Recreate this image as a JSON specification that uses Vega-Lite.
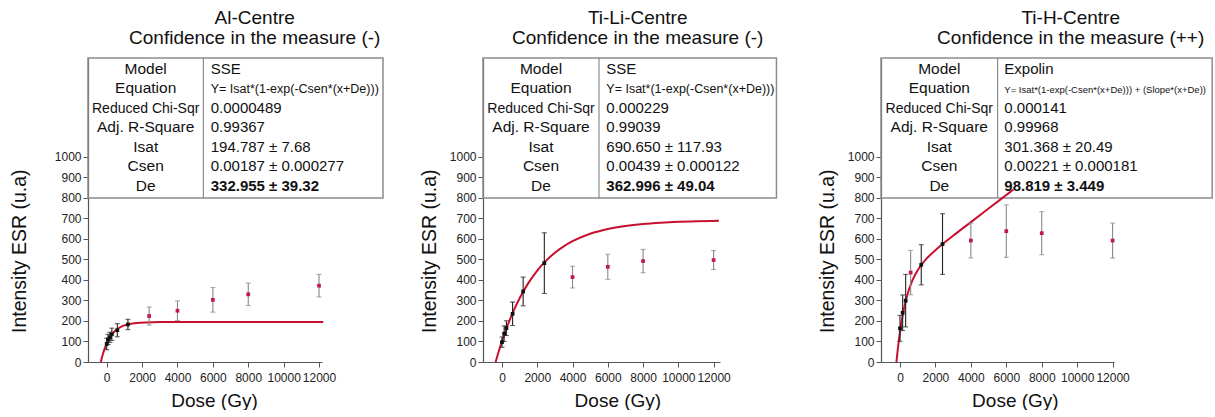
{
  "$schema": "https://vega.github.io/schema/vega-lite/v6.json",
  "padding": {"left": 9, "top": 9, "right": 0, "bottom": 0},
  "background": "white",
  "bounds": "flush",
  "spacing": 161,
  "config": {
    "font": "Liberation Sans",
    "view": {"stroke": null},
    "axis": {"grid": false, "domainColor": "#555555", "tickColor": "#555555", "labelColor": "#222222", "titleColor": "#111111", "labelFontSize": 12, "titleFontSize": 19, "titleFontWeight": "normal", "labelFont": "Liberation Sans", "titleFont": "Liberation Sans", "domainWidth": 1.2, "tickSize": 5, "labelOverlap": false, "labelFlush": false},
    "axisX": {"titlePadding": 8, "labelPadding": 5},
    "axisY": {"titleFontSize": 19.5, "titleY": 192.7, "labelPadding": 2},
    "title": {"font": "Liberation Sans", "fontSize": 19, "fontWeight": "normal", "color": "#111111", "anchor": "middle", "frame": "group", "lineHeight": 20},
    "text": {"font": "Liberation Sans", "color": "#111111"}
  },
  "datasets": {
    "pts": [
      {"panel": "Al", "dose": 0, "esr": 88, "err": 28, "fit": true},
      {"panel": "Al", "dose": 75, "esr": 110, "err": 25, "fit": true},
      {"panel": "Al", "dose": 180, "esr": 120, "err": 25, "fit": true},
      {"panel": "Al", "dose": 290, "esr": 135, "err": 30, "fit": true},
      {"panel": "Al", "dose": 600, "esr": 155, "err": 32, "fit": true},
      {"panel": "Al", "dose": 1200, "esr": 183, "err": 25, "fit": true},
      {"panel": "Al", "dose": 2400, "esr": 224, "err": 44, "fit": false},
      {"panel": "Al", "dose": 4000, "esr": 250, "err": 48, "fit": false},
      {"panel": "Al", "dose": 6000, "esr": 303, "err": 60, "fit": false},
      {"panel": "Al", "dose": 8000, "esr": 330, "err": 55, "fit": false},
      {"panel": "Al", "dose": 12000, "esr": 372, "err": 55, "fit": false},
      {"panel": "TiLi", "dose": 0, "esr": 97, "err": 25, "fit": true},
      {"panel": "TiLi", "dose": 120, "esr": 138, "err": 38, "fit": true},
      {"panel": "TiLi", "dose": 250, "esr": 165, "err": 36, "fit": true},
      {"panel": "TiLi", "dose": 600, "esr": 235, "err": 57, "fit": true},
      {"panel": "TiLi", "dose": 1200, "esr": 344, "err": 70, "fit": true},
      {"panel": "TiLi", "dose": 2400, "esr": 482, "err": 148, "fit": true},
      {"panel": "TiLi", "dose": 4000, "esr": 414, "err": 53, "fit": false},
      {"panel": "TiLi", "dose": 6000, "esr": 464, "err": 61, "fit": false},
      {"panel": "TiLi", "dose": 8000, "esr": 492, "err": 57, "fit": false},
      {"panel": "TiLi", "dose": 12000, "esr": 497, "err": 46, "fit": false},
      {"panel": "TiH", "dose": 0, "esr": 164, "err": 63, "fit": true},
      {"panel": "TiH", "dose": 150, "esr": 240, "err": 87, "fit": true},
      {"panel": "TiH", "dose": 320, "esr": 299, "err": 128, "fit": true},
      {"panel": "TiH", "dose": 600, "esr": 436, "err": 108, "fit": false},
      {"panel": "TiH", "dose": 1200, "esr": 474, "err": 98, "fit": true},
      {"panel": "TiH", "dose": 2400, "esr": 575, "err": 148, "fit": true},
      {"panel": "TiH", "dose": 4000, "esr": 592, "err": 85, "fit": false},
      {"panel": "TiH", "dose": 6000, "esr": 638, "err": 128, "fit": false},
      {"panel": "TiH", "dose": 8000, "esr": 628, "err": 105, "fit": false},
      {"panel": "TiH", "dose": 12000, "esr": 592, "err": 85, "fit": false}
    ],
    "fits": [
      {"panel": "Al", "dose": -333, "esr": 0},
      {"panel": "Al", "dose": -250, "esr": 28.0},
      {"panel": "Al", "dose": -150, "esr": 56.4},
      {"panel": "Al", "dose": -50, "esr": 80.0},
      {"panel": "Al", "dose": 0, "esr": 90.3},
      {"panel": "Al", "dose": 100, "esr": 108.1},
      {"panel": "Al", "dose": 200, "esr": 122.9},
      {"panel": "Al", "dose": 300, "esr": 135.1},
      {"panel": "Al", "dose": 450, "esr": 149.7},
      {"panel": "Al", "dose": 600, "esr": 160.8},
      {"panel": "Al", "dose": 800, "esr": 171.4},
      {"panel": "Al", "dose": 1000, "esr": 178.7},
      {"panel": "Al", "dose": 1300, "esr": 185.6},
      {"panel": "Al", "dose": 1700, "esr": 190.4},
      {"panel": "Al", "dose": 2200, "esr": 193.1},
      {"panel": "Al", "dose": 3000, "esr": 194.4},
      {"panel": "Al", "dose": 5000, "esr": 194.8},
      {"panel": "Al", "dose": 8000, "esr": 194.8},
      {"panel": "Al", "dose": 12240, "esr": 194.8},
      {"panel": "TiLi", "dose": -363, "esr": 0},
      {"panel": "TiLi", "dose": -200, "esr": 47.7},
      {"panel": "TiLi", "dose": 0, "esr": 101.7},
      {"panel": "TiLi", "dose": 200, "esr": 151.2},
      {"panel": "TiLi", "dose": 400, "esr": 196.6},
      {"panel": "TiLi", "dose": 700, "esr": 257.5},
      {"panel": "TiLi", "dose": 1000, "esr": 311.0},
      {"panel": "TiLi", "dose": 1500, "esr": 385.8},
      {"panel": "TiLi", "dose": 2000, "esr": 445.9},
      {"panel": "TiLi", "dose": 2500, "esr": 494.1},
      {"panel": "TiLi", "dose": 3000, "esr": 532.8},
      {"panel": "TiLi", "dose": 3500, "esr": 563.9},
      {"panel": "TiLi", "dose": 4000, "esr": 588.9},
      {"panel": "TiLi", "dose": 5000, "esr": 625.1},
      {"panel": "TiLi", "dose": 6000, "esr": 648.4},
      {"panel": "TiLi", "dose": 7000, "esr": 663.4},
      {"panel": "TiLi", "dose": 8000, "esr": 673.1},
      {"panel": "TiLi", "dose": 9000, "esr": 679.3},
      {"panel": "TiLi", "dose": 10000, "esr": 683.4},
      {"panel": "TiLi", "dose": 11000, "esr": 685.9},
      {"panel": "TiLi", "dose": 12300, "esr": 688.0},
      {"panel": "TiH", "dose": -200, "esr": 0},
      {"panel": "TiH", "dose": -150, "esr": 41.8},
      {"panel": "TiH", "dose": -100, "esr": 80.0},
      {"panel": "TiH", "dose": -50, "esr": 114.9},
      {"panel": "TiH", "dose": 0, "esr": 146.7},
      {"panel": "TiH", "dose": 100, "esr": 202.5},
      {"panel": "TiH", "dose": 200, "esr": 249.4},
      {"panel": "TiH", "dose": 300, "esr": 289.0},
      {"panel": "TiH", "dose": 450, "esr": 337.5},
      {"panel": "TiH", "dose": 600, "esr": 376.0},
      {"panel": "TiH", "dose": 800, "esr": 416.2},
      {"panel": "TiH", "dose": 1000, "esr": 447.5},
      {"panel": "TiH", "dose": 1200, "esr": 472.8},
      {"panel": "TiH", "dose": 1500, "esr": 503.7},
      {"panel": "TiH", "dose": 2000, "esr": 545.2},
      {"panel": "TiH", "dose": 2400, "esr": 574.4},
      {"panel": "TiH", "dose": 3000, "esr": 615.5},
      {"panel": "TiH", "dose": 4000, "esr": 682.1},
      {"panel": "TiH", "dose": 5000, "esr": 748.2},
      {"panel": "TiH", "dose": 6000, "esr": 814.2},
      {"panel": "TiH", "dose": 6400, "esr": 840.6}
    ],
    "tbl": [
      {"panel": "Al", "row": 1, "param": "Model", "value": "SSE"},
      {"panel": "Al", "row": 2, "param": "Equation", "value": "Y= Isat*(1-exp(-Csen*(x+De)))"},
      {"panel": "Al", "row": 3, "param": "Reduced Chi-Sqr", "value": "0.0000489"},
      {"panel": "Al", "row": 4, "param": "Adj. R-Square", "value": " 0.99367"},
      {"panel": "Al", "row": 5, "param": "Isat", "value": "194.787 ± 7.68"},
      {"panel": "Al", "row": 6, "param": "Csen", "value": "0.00187 ± 0.000277"},
      {"panel": "Al", "row": 7, "param": "De", "value": "332.955 ± 39.32"},
      {"panel": "TiLi", "row": 1, "param": "Model", "value": "SSE"},
      {"panel": "TiLi", "row": 2, "param": "Equation", "value": "Y= Isat*(1-exp(-Csen*(x+De)))"},
      {"panel": "TiLi", "row": 3, "param": "Reduced Chi-Sqr", "value": "0.000229"},
      {"panel": "TiLi", "row": 4, "param": "Adj. R-Square", "value": "0.99039"},
      {"panel": "TiLi", "row": 5, "param": "Isat", "value": "690.650 ± 117.93"},
      {"panel": "TiLi", "row": 6, "param": "Csen", "value": "0.00439 ± 0.000122"},
      {"panel": "TiLi", "row": 7, "param": "De", "value": "362.996 ± 49.04"},
      {"panel": "TiH", "row": 1, "param": "Model", "value": "Expolin"},
      {"panel": "TiH", "row": 2, "param": "Equation", "value": "Y= Isat*(1-exp(-Csen*(x+De))) + (Slope*(x+De))"},
      {"panel": "TiH", "row": 3, "param": "Reduced Chi-Sqr", "value": "0.000141"},
      {"panel": "TiH", "row": 4, "param": "Adj. R-Square", "value": "0.99968"},
      {"panel": "TiH", "row": 5, "param": "Isat", "value": "301.368 ± 20.49"},
      {"panel": "TiH", "row": 6, "param": "Csen", "value": "0.00221 ± 0.000181"},
      {"panel": "TiH", "row": 7, "param": "De", "value": "98.819 ± 3.449"}
    ]
  },
  "hconcat": [
    {
      "width": 234, "height": 304,
      "title": {"text": ["Al-Centre", "Confidence in the measure (-)"], "dx": 49.7, "offset": 9},
      "layer": [
        {
          "layer": [
            {
              "data": {"values": [{}]},
              "mark": {"type": "rect", "fill": "white", "fillOpacity": 0, "stroke": "#8c8c8c", "strokeWidth": 1.5},
              "encoding": {
                "x": {"datum": -1057, "type": "quantitative", "scale": {"domain": [-1057, 12168], "nice": false, "zero": false}, "title": "Dose (Gy)", "axis": {"values": [0, 2000, 4000, 6000, 8000, 10000, 12000], "format": "d", "titleX": 126}},
                "x2": {"datum": 15615},
                "y": {"datum": 800, "type": "quantitative", "scale": {"domain": [0, 1482], "nice": false}, "title": "Intensity ESR (u.a)", "axis": {"values": [0, 100, 200, 300, 400, 500, 600, 700, 800, 900, 1000], "format": "d", "titlePadding": 25}},
                "y2": {"datum": 1482}
              }
            },
            {
              "data": {"values": [{}]},
              "mark": {"type": "rule", "stroke": "#8c8c8c", "strokeWidth": 1.2},
              "encoding": {
                "x": {"datum": 5465, "type": "quantitative", "title": "Dose (Gy)", "axis": {"values": [0, 2000, 4000, 6000, 8000, 10000, 12000], "format": "d", "titleX": 126}},
                "y": {"datum": 800, "type": "quantitative", "title": "Intensity ESR (u.a)", "axis": {"values": [0, 100, 200, 300, 400, 500, 600, 700, 800, 900, 1000], "format": "d", "titlePadding": 25}},
                "y2": {"datum": 1482}
              }
            },
            {
              "data": {"name": "fits"},
              "transform": [{"filter": "datum.panel == 'Al'"}],
              "mark": {"type": "line", "color": "#c8102e", "strokeWidth": 2, "interpolate": "monotone", "clip": false},
              "encoding": {
                "x": {"field": "dose", "type": "quantitative", "title": "Dose (Gy)", "axis": {"values": [0, 2000, 4000, 6000, 8000, 10000, 12000], "format": "d", "titleX": 126}},
                "y": {"field": "esr", "type": "quantitative", "title": "Intensity ESR (u.a)", "axis": {"values": [0, 100, 200, 300, 400, 500, 600, 700, 800, 900, 1000], "format": "d", "titlePadding": 25}}
              }
            },
            {
              "data": {"name": "pts"},
              "transform": [{"filter": "datum.panel == 'Al'"}],
              "mark": {"type": "errorbar", "ticks": {"size": 5}, "thickness": 1.1},
              "encoding": {
                "x": {"field": "dose", "type": "quantitative", "title": "Dose (Gy)", "axis": {"values": [0, 2000, 4000, 6000, 8000, 10000, 12000], "format": "d", "titleX": 126}},
                "y": {"field": "esr", "type": "quantitative", "title": "Intensity ESR (u.a)", "axis": {"values": [0, 100, 200, 300, 400, 500, 600, 700, 800, 900, 1000], "format": "d", "titlePadding": 25}},
                "yError": {"field": "err"},
                "color": {"condition": {"test": "datum.fit", "value": "#222222"}, "value": "#888888"}
              }
            },
            {
              "data": {"name": "pts"},
              "transform": [{"filter": "datum.panel == 'Al'"}],
              "mark": {"type": "square", "size": 14, "opacity": 1},
              "encoding": {
                "x": {"field": "dose", "type": "quantitative", "title": "Dose (Gy)", "axis": {"values": [0, 2000, 4000, 6000, 8000, 10000, 12000], "format": "d", "titleX": 126}},
                "y": {"field": "esr", "type": "quantitative", "title": "Intensity ESR (u.a)", "axis": {"values": [0, 100, 200, 300, 400, 500, 600, 700, 800, 900, 1000], "format": "d", "titlePadding": 25}},
                "color": {"condition": {"test": "datum.fit", "value": "#111111"}, "value": "#c2185b"}
              }
            }
          ]
        },
        {
          "data": {"name": "tbl"},
          "transform": [{"filter": "datum.panel == 'Al'"}],
          "encoding": {
            "y": {"field": "row", "type": "quantitative", "scale": {"domain": [0.1774, 15.82], "reverse": true, "nice": false, "zero": false}, "axis": null}
          },
          "layer": [
            {
              "mark": {"type": "text", "align": "center", "baseline": "alphabetic"},
              "encoding": {
                "x": {"datum": 2204, "type": "quantitative", "title": "Dose (Gy)", "axis": {"values": [0, 2000, 4000, 6000, 8000, 10000, 12000], "format": "d", "titleX": 126}},
                "text": {"field": "param"},
                "size": {"condition": {"test": "datum.row == 3", "value": 14}, "value": 15.5}
              }
            },
            {
              "transform": [{"filter": "datum.row != 7"}],
              "mark": {"type": "text", "align": "left", "baseline": "alphabetic"},
              "encoding": {
                "x": {"datum": 5878, "type": "quantitative", "title": "Dose (Gy)", "axis": {"values": [0, 2000, 4000, 6000, 8000, 10000, 12000], "format": "d", "titleX": 126}},
                "text": {"field": "value"},
                "size": {"condition": {"test": "datum.row == 2", "value": 12.5}, "value": 15}
              }
            },
            {
              "transform": [{"filter": "datum.row == 7"}],
              "mark": {"type": "text", "align": "left", "baseline": "alphabetic", "fontWeight": "bold", "fontSize": 15},
              "encoding": {
                "x": {"datum": 5878, "type": "quantitative", "title": "Dose (Gy)", "axis": {"values": [0, 2000, 4000, 6000, 8000, 10000, 12000], "format": "d", "titleX": 126}},
                "text": {"field": "value"}
              }
            }
          ]
        }
      ],
      "resolve": {"scale": {"y": "independent"}}
    },
    {
      "width": 237, "height": 304,
      "title": {"text": ["Ti-Li-Centre", "Confidence in the measure (-)"], "dx": 36.2, "offset": 9},
      "layer": [
        {
          "layer": [
            {
              "data": {"values": [{}]},
              "mark": {"type": "rect", "fill": "white", "fillOpacity": 0, "stroke": "#8c8c8c", "strokeWidth": 1.5},
              "encoding": {
                "x": {"datum": -1078, "type": "quantitative", "scale": {"domain": [-1078, 12363], "nice": false, "zero": false}, "title": "Dose (Gy)", "axis": {"values": [0, 2000, 4000, 6000, 8000, 10000, 12000], "format": "d", "titleX": 134.4}},
                "x2": {"datum": 15566},
                "y": {"datum": 800, "type": "quantitative", "scale": {"domain": [0, 1482], "nice": false}, "title": "Intensity ESR (u.a)", "axis": {"values": [0, 100, 200, 300, 400, 500, 600, 700, 800, 900, 1000], "format": "d", "titlePadding": 10.3}},
                "y2": {"datum": 1482}
              }
            },
            {
              "data": {"values": [{}]},
              "mark": {"type": "rule", "stroke": "#8c8c8c", "strokeWidth": 1.2},
              "encoding": {
                "x": {"datum": 5501, "type": "quantitative", "title": "Dose (Gy)", "axis": {"values": [0, 2000, 4000, 6000, 8000, 10000, 12000], "format": "d", "titleX": 134.4}},
                "y": {"datum": 800, "type": "quantitative", "title": "Intensity ESR (u.a)", "axis": {"values": [0, 100, 200, 300, 400, 500, 600, 700, 800, 900, 1000], "format": "d", "titlePadding": 10.3}},
                "y2": {"datum": 1482}
              }
            },
            {
              "data": {"name": "fits"},
              "transform": [{"filter": "datum.panel == 'TiLi'"}],
              "mark": {"type": "line", "color": "#c8102e", "strokeWidth": 2, "interpolate": "monotone", "clip": false},
              "encoding": {
                "x": {"field": "dose", "type": "quantitative", "title": "Dose (Gy)", "axis": {"values": [0, 2000, 4000, 6000, 8000, 10000, 12000], "format": "d", "titleX": 134.4}},
                "y": {"field": "esr", "type": "quantitative", "title": "Intensity ESR (u.a)", "axis": {"values": [0, 100, 200, 300, 400, 500, 600, 700, 800, 900, 1000], "format": "d", "titlePadding": 10.3}}
              }
            },
            {
              "data": {"name": "pts"},
              "transform": [{"filter": "datum.panel == 'TiLi'"}],
              "mark": {"type": "errorbar", "ticks": {"size": 5}, "thickness": 1.1},
              "encoding": {
                "x": {"field": "dose", "type": "quantitative", "title": "Dose (Gy)", "axis": {"values": [0, 2000, 4000, 6000, 8000, 10000, 12000], "format": "d", "titleX": 134.4}},
                "y": {"field": "esr", "type": "quantitative", "title": "Intensity ESR (u.a)", "axis": {"values": [0, 100, 200, 300, 400, 500, 600, 700, 800, 900, 1000], "format": "d", "titlePadding": 10.3}},
                "yError": {"field": "err"},
                "color": {"condition": {"test": "datum.fit", "value": "#222222"}, "value": "#888888"}
              }
            },
            {
              "data": {"name": "pts"},
              "transform": [{"filter": "datum.panel == 'TiLi'"}],
              "mark": {"type": "square", "size": 14, "opacity": 1},
              "encoding": {
                "x": {"field": "dose", "type": "quantitative", "title": "Dose (Gy)", "axis": {"values": [0, 2000, 4000, 6000, 8000, 10000, 12000], "format": "d", "titleX": 134.4}},
                "y": {"field": "esr", "type": "quantitative", "title": "Intensity ESR (u.a)", "axis": {"values": [0, 100, 200, 300, 400, 500, 600, 700, 800, 900, 1000], "format": "d", "titlePadding": 10.3}},
                "color": {"condition": {"test": "datum.fit", "value": "#111111"}, "value": "#c2185b"}
              }
            }
          ]
        },
        {
          "data": {"name": "tbl"},
          "transform": [{"filter": "datum.panel == 'TiLi'"}],
          "encoding": {
            "y": {"field": "row", "type": "quantitative", "scale": {"domain": [0.1774, 15.82], "reverse": true, "nice": false, "zero": false}, "axis": null}
          },
          "layer": [
            {
              "mark": {"type": "text", "align": "center", "baseline": "alphabetic"},
              "encoding": {
                "x": {"datum": 2212, "type": "quantitative", "title": "Dose (Gy)", "axis": {"values": [0, 2000, 4000, 6000, 8000, 10000, 12000], "format": "d", "titleX": 134.4}},
                "text": {"field": "param"},
                "size": {"condition": {"test": "datum.row == 3", "value": 14}, "value": 15.5}
              }
            },
            {
              "transform": [{"filter": "datum.row != 7"}],
              "mark": {"type": "text", "align": "left", "baseline": "alphabetic"},
              "encoding": {
                "x": {"datum": 5915, "type": "quantitative", "title": "Dose (Gy)", "axis": {"values": [0, 2000, 4000, 6000, 8000, 10000, 12000], "format": "d", "titleX": 134.4}},
                "text": {"field": "value"},
                "size": {"condition": {"test": "datum.row == 2", "value": 12.5}, "value": 15}
              }
            },
            {
              "transform": [{"filter": "datum.row == 7"}],
              "mark": {"type": "text", "align": "left", "baseline": "alphabetic", "fontWeight": "bold", "fontSize": 15},
              "encoding": {
                "x": {"datum": 5915, "type": "quantitative", "title": "Dose (Gy)", "axis": {"values": [0, 2000, 4000, 6000, 8000, 10000, 12000], "format": "d", "titleX": 134.4}},
                "text": {"field": "value"}
              }
            }
          ]
        }
      ],
      "resolve": {"scale": {"y": "independent"}}
    },
    {
      "width": 233, "height": 304,
      "title": {"text": ["Ti-H-Centre", "Confidence in the measure (++)"], "dx": 73.2, "offset": 9},
      "layer": [
        {
          "layer": [
            {
              "data": {"values": [{}]},
              "mark": {"type": "rect", "fill": "white", "fillOpacity": 0, "stroke": "#8c8c8c", "strokeWidth": 1.5},
              "encoding": {
                "x": {"datum": -1072, "type": "quantitative", "scale": {"domain": [-1072, 12079], "nice": false, "zero": false}, "title": "Dose (Gy)", "axis": {"values": [0, 2000, 4000, 6000, 8000, 10000, 12000], "format": "d", "titleX": 133.9}},
                "x2": {"datum": 17620},
                "y": {"datum": 800, "type": "quantitative", "scale": {"domain": [0, 1482], "nice": false}, "title": "Intensity ESR (u.a)", "axis": {"values": [0, 100, 200, 300, 400, 500, 600, 700, 800, 900, 1000], "format": "d", "titlePadding": 9.9}},
                "y2": {"datum": 1482}
              }
            },
            {
              "data": {"values": [{}]},
              "mark": {"type": "rule", "stroke": "#8c8c8c", "strokeWidth": 1.2},
              "encoding": {
                "x": {"datum": 5509, "type": "quantitative", "title": "Dose (Gy)", "axis": {"values": [0, 2000, 4000, 6000, 8000, 10000, 12000], "format": "d", "titleX": 133.9}},
                "y": {"datum": 800, "type": "quantitative", "title": "Intensity ESR (u.a)", "axis": {"values": [0, 100, 200, 300, 400, 500, 600, 700, 800, 900, 1000], "format": "d", "titlePadding": 9.9}},
                "y2": {"datum": 1482}
              }
            },
            {
              "data": {"name": "fits"},
              "transform": [{"filter": "datum.panel == 'TiH'"}],
              "mark": {"type": "line", "color": "#c8102e", "strokeWidth": 2, "interpolate": "monotone", "clip": false},
              "encoding": {
                "x": {"field": "dose", "type": "quantitative", "title": "Dose (Gy)", "axis": {"values": [0, 2000, 4000, 6000, 8000, 10000, 12000], "format": "d", "titleX": 133.9}},
                "y": {"field": "esr", "type": "quantitative", "title": "Intensity ESR (u.a)", "axis": {"values": [0, 100, 200, 300, 400, 500, 600, 700, 800, 900, 1000], "format": "d", "titlePadding": 9.9}}
              }
            },
            {
              "data": {"name": "pts"},
              "transform": [{"filter": "datum.panel == 'TiH'"}],
              "mark": {"type": "errorbar", "ticks": {"size": 5}, "thickness": 1.1},
              "encoding": {
                "x": {"field": "dose", "type": "quantitative", "title": "Dose (Gy)", "axis": {"values": [0, 2000, 4000, 6000, 8000, 10000, 12000], "format": "d", "titleX": 133.9}},
                "y": {"field": "esr", "type": "quantitative", "title": "Intensity ESR (u.a)", "axis": {"values": [0, 100, 200, 300, 400, 500, 600, 700, 800, 900, 1000], "format": "d", "titlePadding": 9.9}},
                "yError": {"field": "err"},
                "color": {"condition": {"test": "datum.fit", "value": "#222222"}, "value": "#888888"}
              }
            },
            {
              "data": {"name": "pts"},
              "transform": [{"filter": "datum.panel == 'TiH'"}],
              "mark": {"type": "square", "size": 14, "opacity": 1},
              "encoding": {
                "x": {"field": "dose", "type": "quantitative", "title": "Dose (Gy)", "axis": {"values": [0, 2000, 4000, 6000, 8000, 10000, 12000], "format": "d", "titleX": 133.9}},
                "y": {"field": "esr", "type": "quantitative", "title": "Intensity ESR (u.a)", "axis": {"values": [0, 100, 200, 300, 400, 500, 600, 700, 800, 900, 1000], "format": "d", "titlePadding": 9.9}},
                "color": {"condition": {"test": "datum.fit", "value": "#111111"}, "value": "#c2185b"}
              }
            }
          ]
        },
        {
          "data": {"name": "tbl"},
          "transform": [{"filter": "datum.panel == 'TiH'"}],
          "encoding": {
            "y": {"field": "row", "type": "quantitative", "scale": {"domain": [0.1774, 15.82], "reverse": true, "nice": false, "zero": false}, "axis": null}
          },
          "layer": [
            {
              "mark": {"type": "text", "align": "center", "baseline": "alphabetic"},
              "encoding": {
                "x": {"datum": 2218, "type": "quantitative", "title": "Dose (Gy)", "axis": {"values": [0, 2000, 4000, 6000, 8000, 10000, 12000], "format": "d", "titleX": 133.9}},
                "text": {"field": "param"},
                "size": {"condition": {"test": "datum.row == 3", "value": 14}, "value": 15.5}
              }
            },
            {
              "transform": [{"filter": "datum.row != 7"}],
              "mark": {"type": "text", "align": "left", "baseline": "alphabetic"},
              "encoding": {
                "x": {"datum": 5887, "type": "quantitative", "title": "Dose (Gy)", "axis": {"values": [0, 2000, 4000, 6000, 8000, 10000, 12000], "format": "d", "titleX": 133.9}},
                "text": {"field": "value"},
                "size": {"condition": {"test": "datum.row == 2", "value": 9.5}, "value": 15}
              }
            },
            {
              "transform": [{"filter": "datum.row == 7"}],
              "mark": {"type": "text", "align": "left", "baseline": "alphabetic", "fontWeight": "bold", "fontSize": 15},
              "encoding": {
                "x": {"datum": 5887, "type": "quantitative", "title": "Dose (Gy)", "axis": {"values": [0, 2000, 4000, 6000, 8000, 10000, 12000], "format": "d", "titleX": 133.9}},
                "text": {"field": "value"}
              }
            }
          ]
        }
      ],
      "resolve": {"scale": {"y": "independent"}}
    }
  ]
}
